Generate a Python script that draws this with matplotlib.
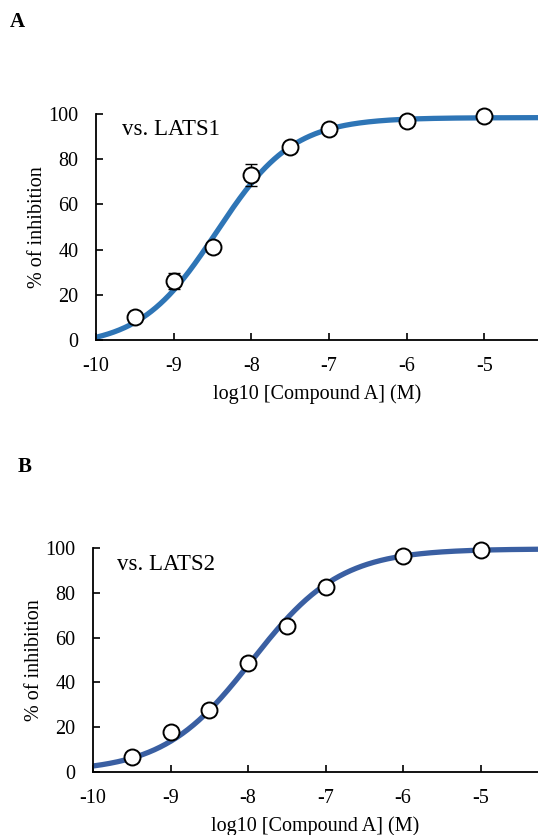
import numpy as np
import matplotlib
matplotlib.use("Agg")
import matplotlib.pyplot as plt

plt.rcParams['font.family'] = ['Liberation Serif', 'DejaVu Serif']

# Data
log_conc = [-9.5, -9.0, -8.5, -8.0, -7.5, -7.0, -6.0, -5.0]
lats1_inhib = [10.0, 26.0, 41.0, 73.0, 85.5, 93.5, 97.0, 99.0]
lats1_err = [1.0, 3.5, 1.5, 5.0, 1.0, 1.0, 0.5, 0.5]
lats2_inhib = [6.5, 18.0, 27.5, 48.5, 65.0, 82.5, 96.5, 99.3]
lats2_err = [0.5, 0.5, 0.5, 0.5, 0.5, 0.5, 0.5, 0.5]

# 4-parameter logistic fit parameters (bottom, top, logIC50, hill)
lats1_fit = (-3.0, 98.4, -8.45, 0.88)
lats2_fit = (0.0, 99.6, -7.95, 0.76)

x_ticks = [-10, -9, -8, -7, -6, -5]
x_tick_labels = ['-10', '-9', '-8', '-7', '-6', '-5']
y_ticks = [0, 20, 40, 60, 80, 100]


def four_pl(x, bottom, top, ic50, hill):
    return bottom + (top - bottom) / (1 + 10 ** ((ic50 - x) * hill))


fig = plt.figure(figsize=(5.38, 8.35), dpi=100)
W, H = 538, 835


def make_panel(rect, xmax, fit, vals, errs, color, label, label_pos,
               panel_letter, letter_pos):
    ax = fig.add_axes(rect)
    xs = np.linspace(-10, xmax, 400)
    ax.plot(xs, np.clip(four_pl(xs, *fit), 0.8, None), color=color, lw=3.8,
            solid_capstyle='butt', zorder=2, clip_on=False)
    ax.errorbar(log_conc, vals, yerr=errs, fmt='none', ecolor='black',
                elinewidth=1.0, capsize=4, capthick=1.0, zorder=3, clip_on=False)
    ax.plot(log_conc, vals, 'o', ms=11.5, mfc='white', mec='black', mew=1.4,
            zorder=4, clip_on=False)
    ax.set_xlim(-10, xmax)
    ax.set_ylim(0, 100)
    ax.set_xticks(x_ticks)
    ax.set_xticklabels(x_tick_labels)
    ax.set_yticks(y_ticks)
    for s in ['top', 'right']:
        ax.spines[s].set_visible(False)
    for s in ['left', 'bottom']:
        ax.spines[s].set_linewidth(1.3)
    ax.tick_params(direction='in', length=5, width=1.2, labelsize=14.5)
    ax.tick_params(axis='x', pad=12)
    ax.tick_params(axis='y', pad=12.5)
    ax.set_xlabel('log10 [Compound A] (M)', fontsize=14.5, labelpad=6)
    ax.set_ylabel('% of inhibition', fontsize=14.5, labelpad=1)
    ax.text(label_pos[0], label_pos[1], label, transform=ax.transAxes,
            fontsize=16.5, ha='left', va='center')
    fig.text(letter_pos[0] / W, 1 - letter_pos[1] / H, panel_letter,
             fontsize=15, fontweight='bold', ha='center', va='center')
    return ax


make_panel([96 / W, 1 - 340 / H, 1 - 96 / W, (340 - 114) / H], -4.31,
           lats1_fit, lats1_inhib, lats1_err, '#2E75B6', 'vs. LATS1',
           (0.058, 0.93), 'A', (17, 22))
make_panel([93 / W, 1 - 772 / H, 1 - 93 / W, (772 - 548) / H], -4.26,
           lats2_fit, lats2_inhib, lats2_err, '#3A5FA2', 'vs. LATS2',
           (0.055, 0.925), 'B', (25, 467))

fig.savefig('out.png', dpi=100)
